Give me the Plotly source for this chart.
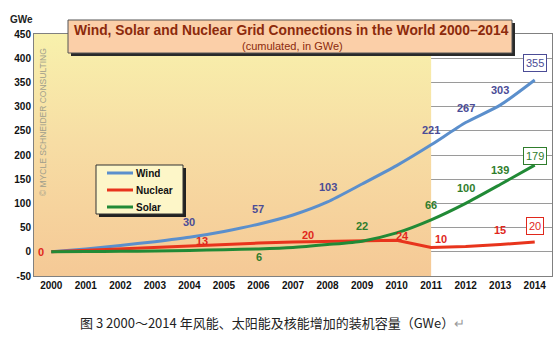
import plotly.graph_objects as go

years = list(range(2000, 2015))
wind = [0, 6, 13, 21, 30, 42, 57, 76, 103, 140, 178, 221, 267, 303, 355]
nuclear = [0, 3, 6, 9, 13, 16, 18, 20, 21, 22, 24, 9, 11, 15, 20]
solar = [0, 0.5, 1, 1.8, 2.8, 4.2, 6, 9, 15, 22, 39, 66, 100, 139, 179]

wind_labels = {2004: "30", 2006: "57", 2008: "103", 2011: "221", 2012: "267", 2013: "303", 2014: "355"}
solar_labels = {2006: "6", 2009: "22", 2011: "66", 2012: "100", 2013: "139", 2014: "179"}
nuclear_labels = {2000: "0", 2004: "13", 2007: "20", 2010: "24", 2011: "10", 2013: "15", 2014: "20"}

series_names = ["Wind", "Nuclear", "Solar"]
yticks = list(range(-50, 451, 50))

WIND_C = "#5b8fcc"
NUC_C = "#e8341c"
SOL_C = "#218a36"
WIND_T = "#4b4c96"
SOL_T = "#2f7d2c"
NUC_T = "#e0281c"

W, H = 560, 337
PL, PR, PT, PB = 34, 552, 34, 276


def pxx(x):
    return (x - PL) / (PR - PL)


def pxy(y):
    return (PB - y) / (PB - PT)


def rect(x0, y0, x1, y1):
    return dict(xref="paper", yref="paper", x0=pxx(x0), x1=pxx(x1), y0=pxy(y1), y1=pxy(y0))


fig = go.Figure()

# shaded period 2000-2011 with vertical gradient (yellow top, orange bottom)
fig.add_trace(go.Scatter(
    x=[1999.5, 2011, 2011, 1999.5, 1999.5], y=[-50, -50, 450, 450, -50],
    mode="lines", line=dict(width=0), fill="toself",
    fillgradient=dict(type="vertical", colorscale=[[0, "#f5c996"], [0.55, "#f7dda4"], [1, "#f8f1ac"]]),
    hoverinfo="skip", showlegend=False))

fig.add_trace(go.Scatter(x=years, y=wind, name="Wind", mode="lines",
                         line=dict(color=WIND_C, width=3, shape="spline", smoothing=0.6)))
fig.add_trace(go.Scatter(x=years, y=nuclear, name="Nuclear", mode="lines",
                         line=dict(color=NUC_C, width=3)))
fig.add_trace(go.Scatter(x=years, y=solar, name="Solar", mode="lines",
                         line=dict(color=SOL_C, width=3, shape="spline", smoothing=0.6)))


def add_labels(labels, series, color, shifts, boxed_year):
    for yr, txt in labels.items():
        xs, ys = shifts.get(yr, (0, 15))
        box = yr == boxed_year
        fig.add_annotation(x=yr, y=series[years.index(yr)], text=f"<b>{txt}</b>" if not box else txt,
                           showarrow=False, xshift=xs, yshift=ys,
                           font=dict(family="Arial", size=11, color=color),
                           bgcolor="white" if box else None,
                           bordercolor=color if box else None,
                           borderwidth=1 if box else 0, borderpad=2)


add_labels(wind_labels, wind, WIND_T, {2014: (0, 17)}, 2014)
add_labels(solar_labels, solar, SOL_T, {2006: (1, -8), 2014: (0, 9)}, 2014)
add_labels(nuclear_labels, nuclear, NUC_T,
           {2000: (-10, 0), 2004: (13, 5), 2007: (15, 7), 2010: (6, 4), 2011: (10, 8),
            2013: (0, 15), 2014: (0, 16)}, 2014)

# watermark
fig.add_annotation(xref="paper", yref="paper", x=pxx(43), y=pxy(122), xanchor="center", yanchor="middle",
                   text="© MYCLE SCHNEIDER CONSULTING", showarrow=False, textangle=-90,
                   font=dict(family="Arial", size=8.5, color="#a09e8c"))

# title box with shadow
fig.add_shape(type="rect", fillcolor="#2a2a2a", line=dict(width=0), **rect(71, 23, 515, 56))
fig.add_shape(type="rect", fillcolor="#fbcfa8", line=dict(color="#555555", width=1), **rect(68, 20, 512, 53))
fig.add_annotation(xref="paper", yref="paper", x=pxx(291), y=pxy(31), xanchor="center", yanchor="middle",
                   text="<b>Wind, Solar and Nuclear Grid Connections in the World 2000–2014</b>",
                   showarrow=False, font=dict(family="Arial", size=13.8, color="#8c2a0c"))
fig.add_annotation(xref="paper", yref="paper", x=pxx(292), y=pxy(46), xanchor="center", yanchor="middle",
                   text="(cumulated, in GWe)", showarrow=False,
                   font=dict(family="Arial", size=11, color="#8c2a0c"))

# legend box with shadow, drawn manually
fig.add_shape(type="rect", fillcolor="#222222", line=dict(width=0), **rect(99, 168, 186, 217))
fig.add_shape(type="rect", fillcolor="#fdf6c8", line=dict(color="#333333", width=1), **rect(96, 165, 183, 214))
for i, (name, col) in enumerate(zip(series_names, [WIND_C, NUC_C, SOL_C])):
    yy = 173 + 17 * i
    fig.add_shape(type="line", xref="paper", yref="paper", x0=pxx(107), x1=pxx(133), y0=pxy(yy), y1=pxy(yy),
                  line=dict(color=col, width=3))
    fig.add_annotation(xref="paper", yref="paper", x=pxx(134), y=pxy(yy), xanchor="left", yanchor="middle",
                       text=f"<b>{name}</b>", showarrow=False, font=dict(family="Arial", size=10, color="#111"))

# axis title & caption
fig.add_annotation(xref="paper", yref="paper", x=pxx(21), y=pxy(19), xanchor="center", yanchor="middle",
                   text="<b>GWe</b>", showarrow=False, font=dict(family="Arial", size=10, color="#222"))
fig.add_annotation(xref="paper", yref="paper", x=pxx(78), y=pxy(322), xanchor="left", yanchor="middle",
                   text="图 3 2000～2014 年风能、太阳能及核能增加的装机容量（GWe）<span style='color:#999'>↵</span>",
                   showarrow=False, font=dict(family="Noto Sans CJK SC", size=13, color="#222"))

fig.update_layout(
    width=W, height=H, margin=dict(l=PL, r=W - PR, t=PT, b=H - PB),
    paper_bgcolor="white", plot_bgcolor="white",
    showlegend=False,
    xaxis=dict(range=[1999.5, 2014.5], tickmode="array", tickvals=years,
               ticktext=[f"<b>{y}</b>" for y in years], showgrid=False, zeroline=False,
               showline=True, linecolor="#808080", mirror=True, ticks="",
               tickfont=dict(family="Arial", size=10, color="#111")),
    yaxis=dict(range=[-50, 450], tickmode="array", tickvals=yticks,
               ticktext=[f"<b>{v}</b>" for v in yticks], showgrid=True, gridcolor="#9a9a9a",
               gridwidth=1, zeroline=False, showline=True, linecolor="#808080", mirror=True,
               ticks="", tickfont=dict(family="Arial", size=10, color="#111")),
)

fig.write_html("out.html")
